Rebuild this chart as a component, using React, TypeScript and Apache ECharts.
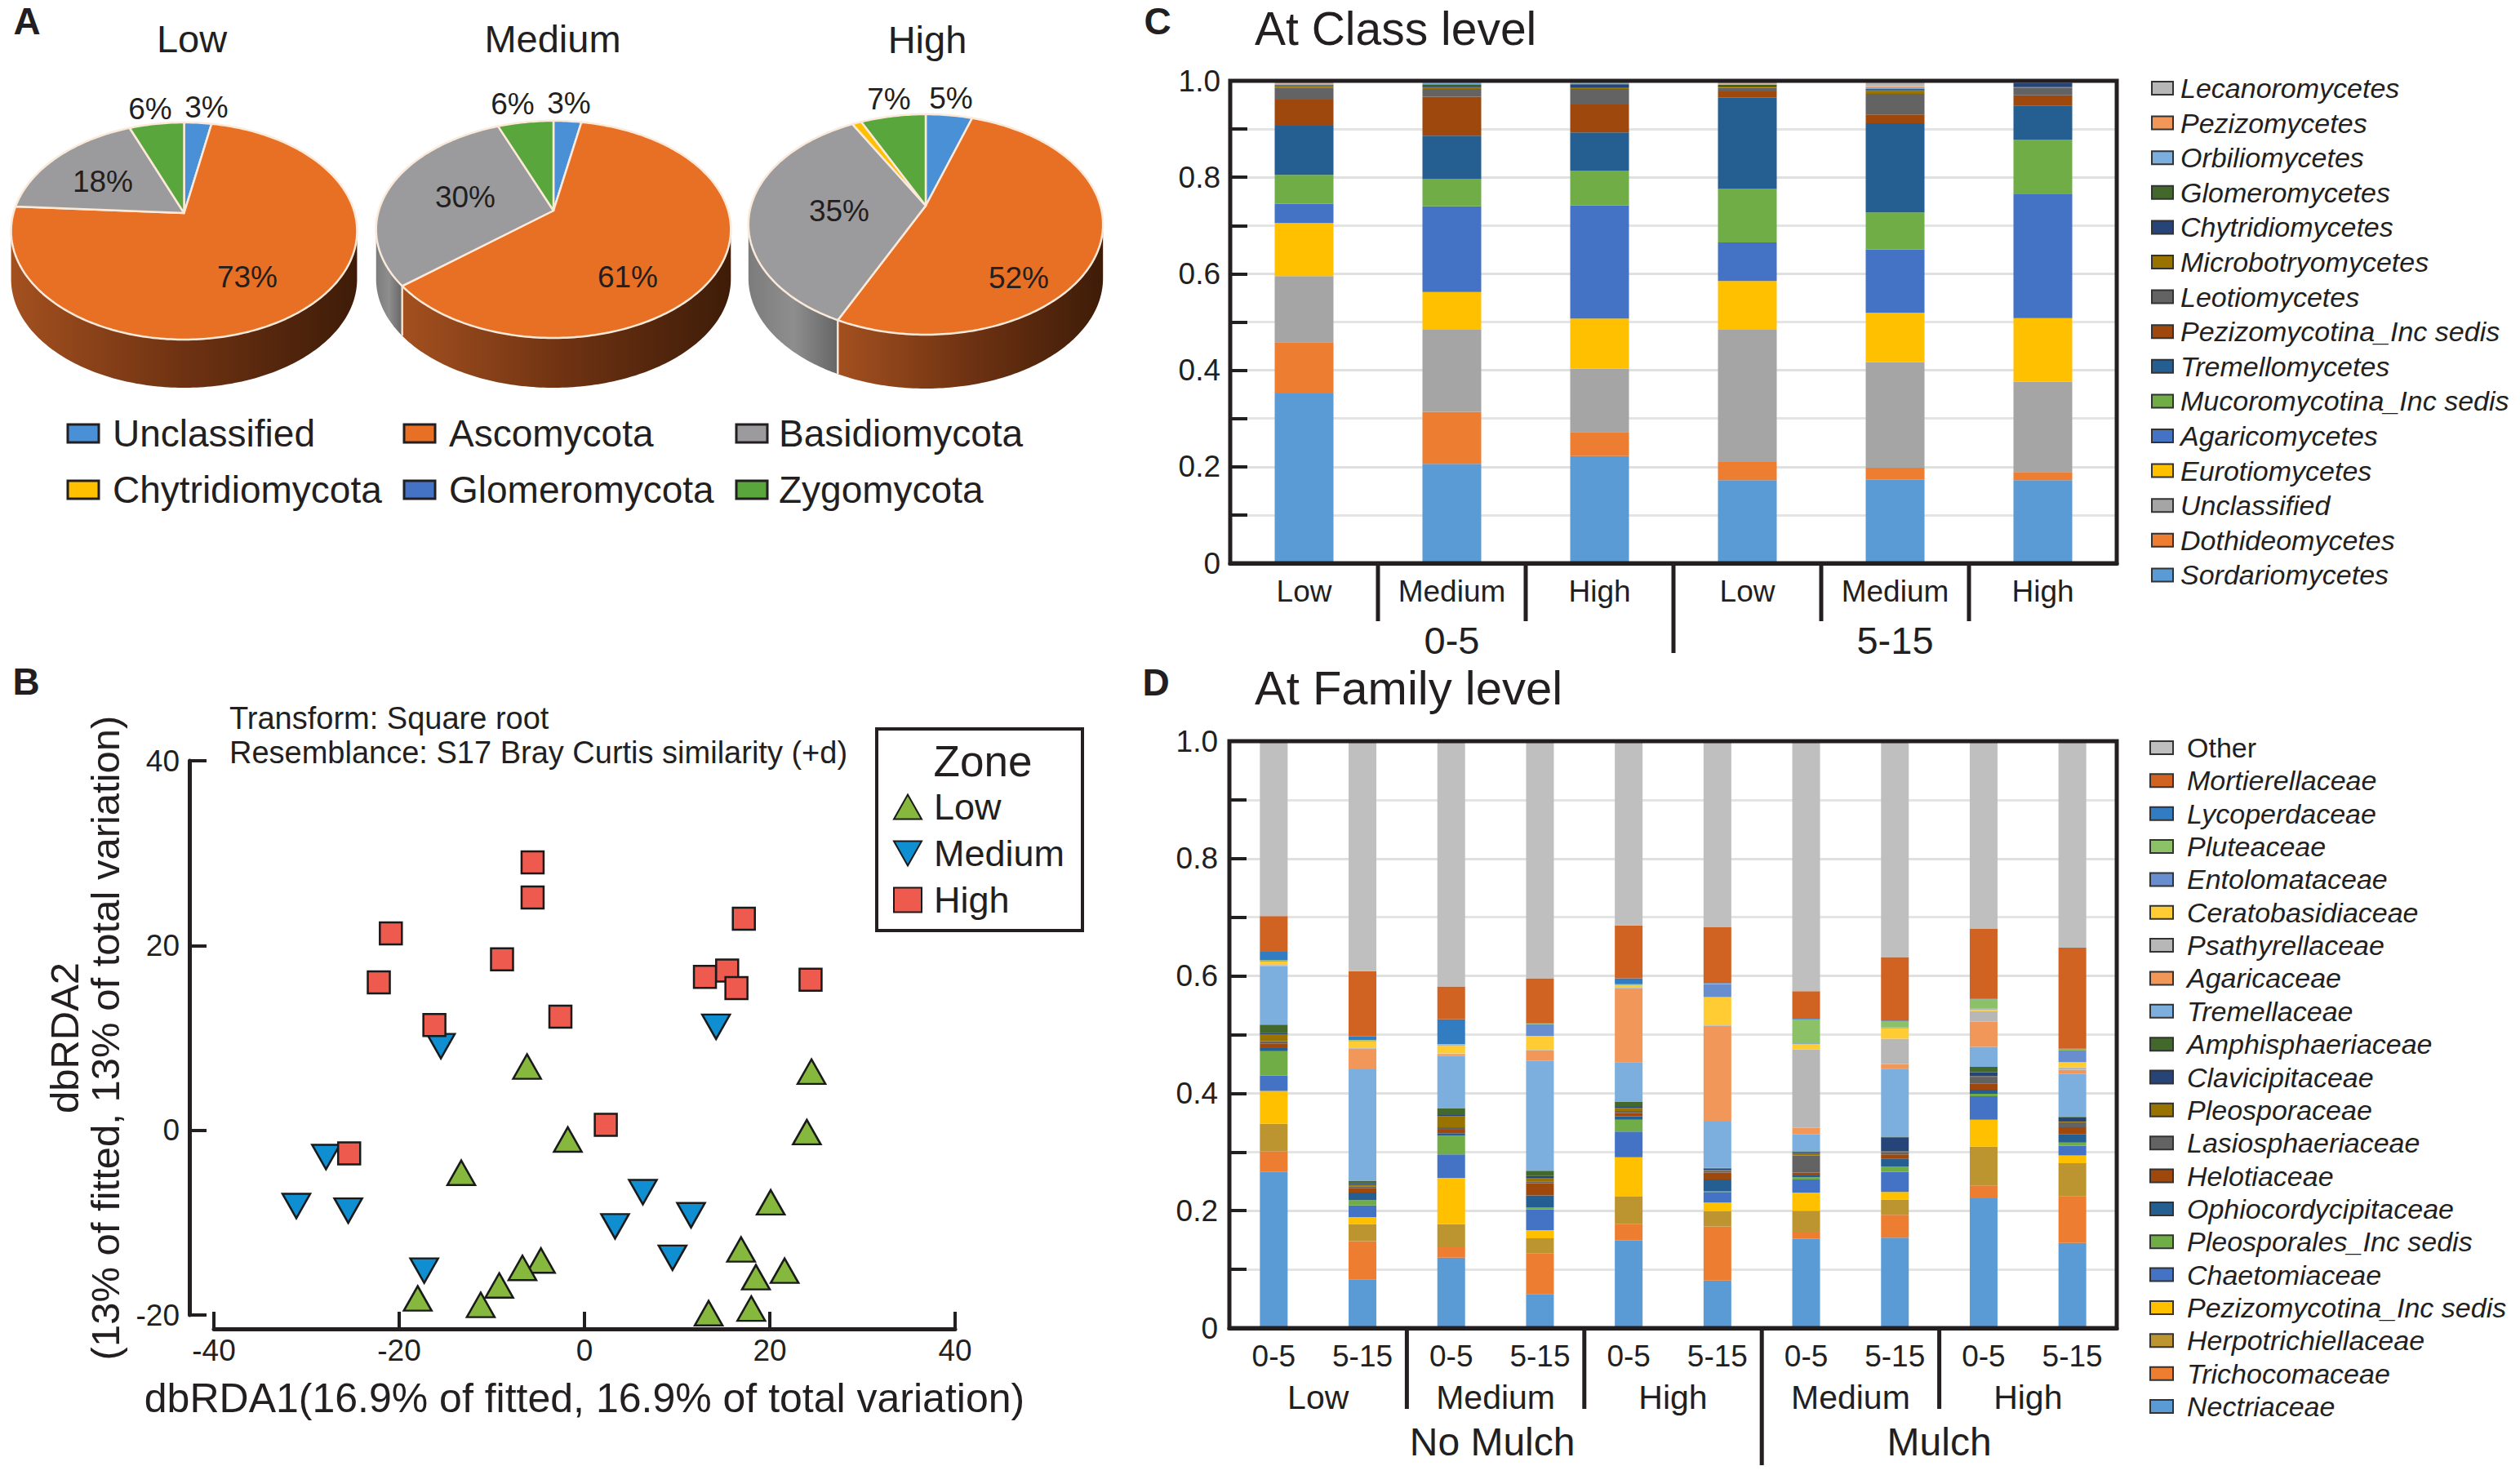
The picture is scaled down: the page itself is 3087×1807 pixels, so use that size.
import React, { useEffect, useRef } from "react";
import * as echarts from "echarts";

// ---------- DATA ----------
const phyla = ["Unclassified", "Ascomycota", "Basidiomycota", "Chytridiomycota", "Glomeromycota", "Zygomycota"];
const pieNames = ["Low", "Medium", "High"];
const pieLow = [3, 73, 18, 0, 0, 6];
const pieMedium = [3, 61, 30, 0, 0, 6];
const pieHigh = [5, 52, 35, 1, 0, 7];

const zoneLow = [[-6.2, 6.9], [24.5, 6.35], [24.0, -0.2], [-1.8, -1.0], [-13.3, -4.6], [20.1, -7.8], [16.9, -12.9], [-4.7, -14.1], [-6.7, -14.9], [21.6, -15.2], [18.5, -15.9], [-9.2, -16.8], [-18.0, -18.2], [-11.2, -18.9], [13.4, -19.8], [18.0, -19.3]];
const zoneMedium = [[14.2, 11.2], [-15.5, 9.1], [-27.9, -2.9], [-31.1, -8.2], [-25.5, -8.7], [6.3, -6.7], [11.5, -9.2], [3.3, -10.4], [9.5, -13.8], [-17.3, -15.2]];
const zoneHigh = [[-5.6, 29.0], [-5.6, 25.2], [17.2, 22.9], [-20.9, 21.3], [-8.9, 18.5], [-22.2, 16.0], [13.0, 16.6], [15.4, 17.3], [16.4, 15.4], [24.4, 16.3], [-16.2, 11.4], [-2.6, 12.3], [2.3, 0.6], [-25.4, -2.5]];

const classCategories = ["Low", "Medium", "High", "Low", "Medium", "High"];
const classNames = ["Sordariomycetes", "Dothideomycetes", "Unclassified", "Eurotiomycetes", "Agaricomycetes", "Mucoromycotina_Inc sedis", "Tremellomycetes", "Pezizomycotina_Inc sedis", "Leotiomycetes", "Microbotryomycetes", "Chytridiomycetes", "Glomeromycetes", "Orbiliomycetes", "Pezizomycetes", "Lecanoromycetes"];
const classBar1 = [.352, .106, .137, .110, .040, .060, .102, .054, .024, .004, .002, .001, .002, .004, .002];
const classBar2 = [.206, .108, .170, .078, .178, .056, .090, .081, .016, .004, .003, .003, .002, .003, .002];
const classBar3 = [.222, .050, .131, .104, .235, .072, .079, .058, .032, .002, .008, .001, .001, .003, .002];
const classBar4 = [.172, .038, .274, .101, .080, .111, .189, .013, .007, .003, .002, .002, .002, .004, .002];
const classBar5 = [.173, .025, .219, .102, .131, .077, .185, .018, .043, .006, .002, .002, .004, .002, .011];
const classBar6 = [.172, .017, .187, .132, .258, .112, .071, .021, .015, .002, .008, .001, .001, .002, .001];
const classBars = [classBar1, classBar2, classBar3, classBar4, classBar5, classBar6];

const familyCategories = ["0-5", "5-15", "0-5", "5-15", "0-5", "5-15", "0-5", "5-15", "0-5", "5-15"];
const familyNames = ["Nectriaceae", "Trichocomaceae", "Herpotrichiellaceae", "Pezizomycotina_Inc sedis", "Chaetomiaceae", "Pleosporales_Inc sedis", "Ophiocordycipitaceae", "Helotiaceae", "Lasiosphaeriaceae", "Pleosporaceae", "Clavicipitaceae", "Amphisphaeriaceae", "Tremellaceae", "Agaricaceae", "Psathyrellaceae", "Ceratobasidiaceae", "Entolomataceae", "Pluteaceae", "Lycoperdaceae", "Mortierellaceae", "Other"];
const familyBar1 = [.266, .035, .047, .056, .026, .042, .005, .008, .004, .011, .003, .014, .100, .001, .001, .006, .001, .001, .014, .061, .298];
const familyBar2 = [.083, .065, .029, .012, .020, .009, .013, .008, .002, .003, .003, .004, .190, .035, .001, .012, .001, .001, .006, .111, .392];
const familyBar3 = [.120, .019, .038, .079, .040, .032, .004, .006, .004, .019, .002, .012, .089, .003, .001, .014, .001, .001, .042, .056, .418];
const familyBar4 = [.058, .069, .026, .014, .035, .004, .020, .021, .003, .006, .003, .009, .187, .018, .001, .024, .020, .001, .001, .076, .404];
const familyBar5 = [.149, .028, .047, .067, .044, .020, .006, .005, .004, .005, .002, .009, .067, .126, .001, .004, .001, .001, .010, .090, .314];
const familyBar6 = [.081, .092, .026, .015, .018, .001, .020, .012, .003, .001, .003, .001, .079, .163, .001, .048, .022, .001, .001, .095, .317];
const familyBar7 = [.152, .012, .036, .031, .022, .004, .003, .005, .029, .004, .002, .001, .029, .011, .134, .009, .001, .041, .001, .047, .426];
const familyBar8 = [.154, .039, .026, .013, .034, .009, .014, .007, .004, .001, .024, .001, .116, .008, .043, .018, .001, .011, .001, .108, .368];
const familyBar9 = [.221, .022, .066, .046, .040, .004, .007, .011, .010, .002, .007, .009, .034, .043, .018, .003, .001, .016, .001, .119, .320];
const familyBar10 = [.145, .080, .056, .013, .017, .005, .014, .012, .009, .001, .007, .001, .073, .007, .004, .009, .020, .002, .001, .172, .352];
const familyBars = [familyBar1, familyBar2, familyBar3, familyBar4, familyBar5, familyBar6, familyBar7, familyBar8, familyBar9, familyBar10];

const shareTickLabels = ["0", "0.2", "0.4", "0.6", "0.8", "1.0"];

// ---------- STYLE / LAYOUT ----------
const FONT = '"Liberation Sans", Arial, sans-serif';
const INK = "#231f20";
const phylumColors = ["#4a90d6", "#e87024", "#9b9b9d", "#ffc000", "#4472c4", "#58a63c"];
const wallStops: any = {
  1: ["#a3501f", "#6e3212", "#3e1c08"],
  2: ["#7c7c7c", "#8e8e8e", "#666666"],
};
const classColors = ["#5b9bd5", "#ed7d31", "#a5a5a5", "#ffc000", "#4472c4", "#70ad47", "#255e91", "#9e480e", "#636363", "#997300", "#264478", "#43682b", "#7cafdd", "#f1975a", "#b7b7b7"];
const familyColors = ["#5b9bd5", "#ed7d31", "#bd9530", "#ffc000", "#4472c4", "#70ad47", "#255e91", "#9e480e", "#636363", "#997300", "#264478", "#43682b", "#7cafdd", "#f1975a", "#b7b7b7", "#ffcd33", "#698ed0", "#8cc168", "#327dc2", "#d06222", "#bfbfbf"];

const pieGeom = [
  { cx: 225.5, R: 209, top: 150, apex: 261, bottom: 416, depth: 59, title: [235, 47], labels: [[253, 131], [303, 339], [126, 222], null, null, [184, 133]] },
  { cx: 678, R: 214, top: 148, apex: 258, bottom: 414, depth: 61, title: [677, 47], labels: [[697, 126], [769, 339], [570, 241], null, null, [628, 127]] },
  { cx: 1134, R: 214, top: 140, apex: 252, bottom: 410, depth: 66, title: [1136, 48], labels: [[1165, 120], [1248, 340], [1028, 258], null, null, [1089, 121]] },
];
const pieValues = [pieLow, pieMedium, pieHigh];

const gridB = { left: 262, top: 932, width: 908, height: 679 };
const gridC = { left: 1507, top: 99, width: 1086, height: 591 };
const gridD = { left: 1506, top: 908, width: 1087, height: 719 };

function pieRenderer(pieIndex: number) {
  const g = pieGeom[pieIndex];
  const values = pieValues[pieIndex];
  const total = values.reduce((s, v) => s + v, 0);
  const c = (2 * g.apex - g.top - g.bottom) / (g.top - g.bottom);
  const a = g.top * c + g.top - g.apex;
  const project = (t: number) => {
    const den = 1 + c * Math.cos(t);
    return [g.cx + (g.R * Math.sin(t)) / den, (a * Math.cos(t) + g.apex) / den];
  };
  const t0 = Math.acos(-c);
  return (params: any) => {
    const i = params.dataIndex;
    const value = values[i];
    if (!value) return { type: "group", children: [] };
    const cum = values.slice(0, i).reduce((s, v) => s + v, 0);
    const start = (cum / total) * Math.PI * 2;
    const end = ((cum + value) / total) * Math.PI * 2;
    const step = Math.PI / 180;
    const arc = (s: number, e: number) => {
      const pts: number[][] = [];
      const n = Math.max(1, Math.ceil((e - s) / step));
      for (let k = 0; k <= n; k++) pts.push(project(s + ((e - s) * k) / n));
      return pts;
    };
    const children: any[] = [];
    const lo = Math.max(start, t0);
    const hi = Math.min(end, Math.PI * 2 - t0);
    if (hi > lo) {
      const rim = arc(lo, hi);
      const lower = rim.map((p) => [p[0], p[1] + g.depth]).reverse();
      const stops = wallStops[i] || ["#888", "#777", "#666"];
      children.push({
        type: "polygon",
        shape: { points: rim.concat(lower) },
        style: {
          fill: new echarts.graphic.LinearGradient(0, 0, 1, 0, [
            { offset: 0, color: stops[0] },
            { offset: 0.5, color: stops[1] },
            { offset: 1, color: stops[2] },
          ]),
        },
      });
      if (start > t0 && start < Math.PI * 2 - t0) {
        const p = project(start);
        children.push({
          type: "line",
          shape: { x1: p[0], y1: p[1], x2: p[0], y2: p[1] + g.depth },
          style: { stroke: "#f3e2d2", lineWidth: 2.5 },
        });
      }
    }
    children.push({
      type: "polygon",
      shape: { points: [[g.cx, g.apex]].concat(arc(start, end)) },
      style: { fill: phylumColors[i], stroke: "#fbe9da", lineWidth: 2.5, lineJoin: "round" },
    });
    const lab = g.labels[i];
    if (lab) {
      children.push({
        type: "text",
        z2: 10,
        style: { text: `${value}%`, x: lab[0], y: lab[1], fill: INK, fontSize: 37, fontFamily: FONT, align: "center", verticalAlign: "middle" },
      });
    }
    return { type: "group", children };
  };
}

function text(t: string, x: number, y: number, fontSize: number, extra: any = {}) {
  return {
    type: "text",
    z: 50,
    silent: true,
    style: { text: t, x, y, fontSize, fontFamily: FONT, fill: INK, align: "center", verticalAlign: "middle", ...extra },
  };
}
function vline(x: number, y1: number, y2: number) {
  return { type: "line", z: 50, silent: true, shape: { x1: x, y1, x2: x, y2 }, style: { stroke: INK, lineWidth: 5 } };
}
function frame(g: any) {
  return { type: "rect", z: 50, silent: true, shape: { x: g.left, y: g.top, width: g.width, height: g.height }, style: { fill: "none", stroke: INK, lineWidth: 5 } };
}

const legendACols = [83, 495, 902];
const legendARows = [531, 600];
const legendATextCols = [138, 550, 954];

function buildGraphic() {
  const el: any[] = [];
  el.push(text("A", 33, 26, 46, { fontWeight: "bold" }));
  el.push(text("B", 32, 835, 46, { fontWeight: "bold" }));
  el.push(text("C", 1418, 26, 46, { fontWeight: "bold" }));
  el.push(text("D", 1416, 836, 46, { fontWeight: "bold" }));
  pieGeom.forEach((g, i) => el.push(text(pieNames[i], g.title[0], g.title[1], 47)));
  phyla.forEach((name, i) => {
    const col = i % 3;
    const row = Math.floor(i / 3);
    el.push({ type: "rect", z: 50, silent: true, shape: { x: legendACols[col], y: legendARows[row] - 11, width: 38, height: 22 }, style: { fill: phylumColors[i], stroke: INK, lineWidth: 3 } });
    el.push(text(name, legendATextCols[col], legendARows[row], 46, { align: "left" }));
  });
  // panel B notes
  el.push(text("Transform: Square root", 281, 880, 38, { align: "left" }));
  el.push(text("Resemblance: S17 Bray Curtis similarity (+d)", 281, 922, 38, { align: "left" }));
  el.push({ type: "rect", z: 40, silent: true, shape: { x: 1074, y: 893, width: 252, height: 247 }, style: { fill: "#fff", stroke: INK, lineWidth: 4 } });
  el.push(text("Zone", 1204, 932, 53));
  // panel C
  el.push(text("At Class level", 1537, 35, 57, { align: "left" }));
  el.push(frame(gridC));
  const cBand = gridC.width / 6;
  [1, 2, 4, 5].forEach((k) => el.push(vline(gridC.left + cBand * k, gridC.top + gridC.height, 761)));
  el.push(vline(gridC.left + cBand * 3, gridC.top + gridC.height, 800));
  el.push(text("0-5", gridC.left + cBand * 1.5, 784, 47));
  el.push(text("5-15", gridC.left + cBand * 4.5, 784, 47));
  // panel D
  el.push(text("At Family level", 1537, 842, 58, { align: "left" }));
  el.push(frame(gridD));
  const dBand = gridD.width / 10;
  [2, 4, 8].forEach((k) => el.push(vline(gridD.left + dBand * k, gridD.top + gridD.height, 1726)));
  el.push(vline(gridD.left + dBand * 6, gridD.top + gridD.height, 1795));
  [["Low", 1], ["Medium", 3], ["High", 5], ["Medium", 7], ["High", 9]].forEach(([n, k]: any) =>
    el.push(text(n, gridD.left + dBand * k, 1712, 41))
  );
  el.push(text("No Mulch", gridD.left + dBand * 3 - 4, 1766, 48));
  el.push(text("Mulch", gridD.left + dBand * 8, 1766, 48));
  return { elements: el };
}

const axisLine = { show: true, lineStyle: { color: INK, width: 5 } };
const tickStyle = { color: INK, width: 4 };

function shareYAxis(gridIndex: number, fontSize: number, margin: number) {
  return {
    type: "value",
    gridIndex,
    min: 0,
    max: 1,
    interval: 0.2,
    axisLine: { show: false },
    axisTick: { show: true, inside: true, length: 21, lineStyle: tickStyle },
    minorTick: { show: true, splitNumber: 2, length: 21, lineStyle: tickStyle },
    splitLine: { show: true, lineStyle: { color: "#e0e0e0", width: 3 } },
    minorSplitLine: { show: true, lineStyle: { color: "#e4e4e4", width: 3 } },
    axisLabel: {
      fontSize,
      fontFamily: FONT,
      color: INK,
      margin,
      formatter: (v: number) => shareTickLabels[Math.round(v * 5)],
    },
  };
}

function stackedSeries(names: string[], colors: string[], bars: number[][], axisIndex: number, stack: string, barWidth: number) {
  return names.map((name, s) => ({
    type: "bar",
    name,
    stack,
    xAxisIndex: axisIndex,
    yAxisIndex: axisIndex,
    barWidth,
    itemStyle: { color: colors[s] },
    data: bars.map((b) => b[s]),
  }));
}

function legendFor(names: string[], colors: string[], left: number, top: number, w: number, gap: number, pad: number) {
  return {
    orient: "vertical",
    left,
    top,
    padding: 0,
    itemWidth: w,
    itemHeight: 16,
    itemGap: gap,
    selectedMode: false,
    textStyle: { fontSize: 34, fontFamily: FONT, fontStyle: "italic", color: INK, padding: [0, 0, 0, pad] },
    data: names
      .map((name, i) => ({
        name,
        icon: "rect",
        itemStyle: { color: colors[i], borderColor: "#333", borderWidth: 2 },
        textStyle: name === "Other" ? { fontStyle: "normal" } : undefined,
      }))
      .reverse(),
  };
}

const markerBorder = { borderColor: "#1a1a1a", borderWidth: 2.5, opacity: 1 };
const downTriangle = "path://M0 0 L34 0 L17 30 Z";

function buildOption(): any {
  return {
    animation: false,
    backgroundColor: "#ffffff",
    grid: [
      { ...gridB, containLabel: false },
      { ...gridC, containLabel: false },
      { ...gridD, containLabel: false },
    ],
    xAxis: [
      {
        type: "value",
        gridIndex: 0,
        min: -40,
        max: 40,
        interval: 20,
        offset: 17,
        axisLine: { show: true, onZero: false, lineStyle: { color: INK, width: 5 } },
        axisTick: { show: true, inside: true, length: 21, lineStyle: tickStyle },
        splitLine: { show: false },
        axisLabel: { fontSize: 37, fontFamily: FONT, color: INK, margin: 8 },
        name: "dbRDA1(16.9% of fitted, 16.9% of total variation)",
        nameLocation: "middle",
        nameGap: 60,
        nameTextStyle: { fontSize: 50, fontFamily: FONT, color: INK },
      },
      {
        type: "category",
        gridIndex: 1,
        data: classCategories,
        axisLine: axisLine,
        axisTick: { show: false },
        axisLabel: { fontSize: 37, fontFamily: FONT, color: INK, margin: 16, interval: 0 },
      },
      {
        type: "category",
        gridIndex: 2,
        data: familyCategories,
        axisLine: axisLine,
        axisTick: { show: false },
        axisLabel: { fontSize: 37, fontFamily: FONT, color: INK, margin: 16, interval: 0 },
      },
    ],
    yAxis: [
      {
        type: "value",
        gridIndex: 0,
        min: -20,
        max: 40,
        interval: 20,
        offset: 30,
        axisLine: { show: true, onZero: false, lineStyle: { color: INK, width: 5 } },
        axisTick: { show: true, inside: true, length: 21, lineStyle: tickStyle },
        splitLine: { show: false },
        axisLabel: { fontSize: 37, fontFamily: FONT, color: INK, margin: 12 },
        name: "dbRDA2\n(13% of fitted, 13% of total variation)",
        nameLocation: "middle",
        nameGap: 78,
        nameTextStyle: { fontSize: 49, lineHeight: 50, fontFamily: FONT, color: INK },
      },
      shareYAxis(1, 37, 12),
      shareYAxis(2, 37, 14),
    ],
    legend: [
      {
        orient: "vertical",
        left: 1094,
        top: 966,
        padding: 0,
        z: 60,
        itemWidth: 34,
        itemHeight: 30,
        itemGap: 12,
        selectedMode: false,
        textStyle: { fontSize: 45, fontFamily: FONT, color: INK, padding: [0, 0, 0, 10] },
        data: ["Low", "Medium", "High"],
      },
      legendFor(classNames, classColors, 2635, 91, 26, 8.6, 4),
      legendFor(familyNames, familyColors, 2633, 899, 28, 6.35, 12),
    ],
    graphic: buildGraphic(),
    series: [
      ...pieValues.map((vals, i) => ({
        type: "custom",
        name: `Phyla ${pieNames[i]}`,
        coordinateSystem: "none",
        clip: false,
        renderItem: pieRenderer(i),
        data: vals,
      })),
      {
        type: "scatter",
        name: "Low",
        xAxisIndex: 0,
        yAxisIndex: 0,
        symbol: "triangle",
        symbolSize: [34, 30],
        itemStyle: { color: "#87b83e", ...markerBorder },
        data: zoneLow,
      },
      {
        type: "scatter",
        name: "Medium",
        xAxisIndex: 0,
        yAxisIndex: 0,
        symbol: downTriangle,
        symbolSize: [34, 30],
        itemStyle: { color: "#0f8ed1", ...markerBorder },
        data: zoneMedium,
      },
      {
        type: "scatter",
        name: "High",
        xAxisIndex: 0,
        yAxisIndex: 0,
        symbol: "rect",
        symbolSize: 27,
        itemStyle: { color: "#ef5a4f", ...markerBorder },
        data: zoneHigh,
      },
      ...stackedSeries(classNames, classColors, classBars, 1, "class", 72),
      ...stackedSeries(familyNames, familyColors, familyBars, 2, "family", 34),
    ],
  };
}

export default function App() {
  const ref = useRef<HTMLDivElement>(null);
  useEffect(() => {
    if (!ref.current) return;
    const chart = echarts.init(ref.current, undefined, { renderer: "svg" });
    chart.setOption(buildOption());
    return () => chart.dispose();
  }, []);
  return <div ref={ref} style={{ position: "absolute", left: 0, top: 0, width: 3087, height: 1807 }} />;
}
